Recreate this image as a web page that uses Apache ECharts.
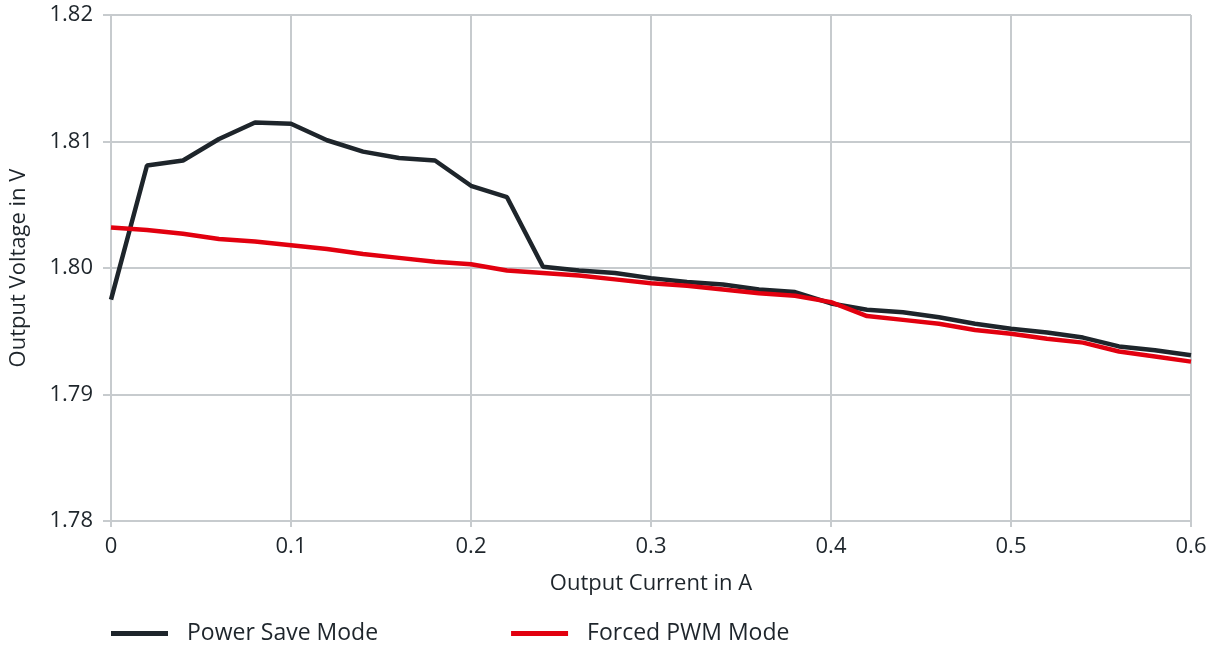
<!DOCTYPE html>
<html><head><meta charset="utf-8">
<script src="https://cdn.jsdelivr.net/npm/echarts@6/dist/echarts.min.js"></script>
<style>html,body{margin:0;padding:0;background:#fff}#c{width:1215px;height:648px}</style>
</head><body><div id="c"></div>
<script>
const current = [0,0.02,0.04,0.06,0.08,0.10,0.12,0.14,0.16,0.18,0.20,0.22,0.24,0.26,0.28,0.30,0.32,0.34,0.36,0.38,0.40,0.42,0.44,0.46,0.48,0.50,0.52,0.54,0.56,0.58,0.60];
const powerSave = [1.7975,1.8081,1.8085,1.8102,1.8115,1.8114,1.8101,1.8092,1.8087,1.8085,1.8065,1.8056,1.8001,1.7998,1.7996,1.7992,1.7989,1.7987,1.7983,1.7981,1.7972,1.7967,1.7965,1.7961,1.7956,1.7952,1.7949,1.7945,1.7938,1.7935,1.7931];
const forcedPWM = [1.8032,1.8030,1.8027,1.8023,1.8021,1.8018,1.8015,1.8011,1.8008,1.8005,1.8003,1.7998,1.7996,1.7994,1.7991,1.7988,1.7986,1.7983,1.7980,1.7978,1.7973,1.7962,1.7959,1.7956,1.7951,1.7948,1.7944,1.7941,1.7934,1.7930,1.7926];
const seriesNames = ['Power Save Mode','Forced PWM Mode'];
const xLabel = 'Output Current in A';
const yLabel = 'Output Voltage in V';

const FONT = 'Open Sans';
const gridColor = '#c7cbce';
const textColor = '#1e252b';
const chart = echarts.init(document.getElementById('c'), null, {renderer:'canvas'});
chart.setOption({
  animation:false,
  textStyle:{fontFamily:FONT},
  grid:{left:111,right:24,top:15,bottom:127,containLabel:false},
  legend:{
    left:106, top:617, itemWidth:57, itemHeight:5, itemGap:133,
    icon:'rect',
    textStyle:{fontFamily:FONT,fontSize:23,color:textColor,padding:[0,0,0,14]},
    data:seriesNames
  },
  xAxis:{
    type:'value', min:0, max:0.6, interval:0.1,
    name:xLabel, nameLocation:'middle', nameGap:52,
    nameTextStyle:{fontFamily:FONT,fontSize:22,color:textColor},
    axisLine:{show:true,lineStyle:{color:gridColor,width:2}},
    axisTick:{show:true,length:6,lineStyle:{color:gridColor,width:2}},
    axisLabel:{fontFamily:FONT,fontSize:22,color:textColor,margin:15,formatter:v=>String(+v.toFixed(1))},
    splitLine:{show:true,lineStyle:{color:gridColor,width:2}}
  },
  yAxis:{
    type:'value', min:1.78, max:1.82, interval:0.01,
    name:yLabel, nameLocation:'middle', nameGap:81,
    nameTextStyle:{fontFamily:FONT,fontSize:22,color:textColor},
    axisLine:{show:true,lineStyle:{color:gridColor,width:2}},
    axisTick:{show:true,length:8,lineStyle:{color:gridColor,width:2}},
    axisLabel:{fontFamily:FONT,fontSize:22,color:textColor,margin:18,formatter:v=>v.toFixed(2)},
    splitLine:{show:true,lineStyle:{color:gridColor,width:2}}
  },
  series:[
    {name:seriesNames[0],type:'line',symbol:'none',color:textColor,
     lineStyle:{width:4.5,color:textColor},data:current.map((x,i)=>[x,powerSave[i]]),z:2},
    {name:seriesNames[1],type:'line',symbol:'none',color:'#e2000f',
     lineStyle:{width:4.5,color:'#e2000f'},data:current.map((x,i)=>[x,forcedPWM[i]]),z:3}
  ]
});
</script></body></html>
